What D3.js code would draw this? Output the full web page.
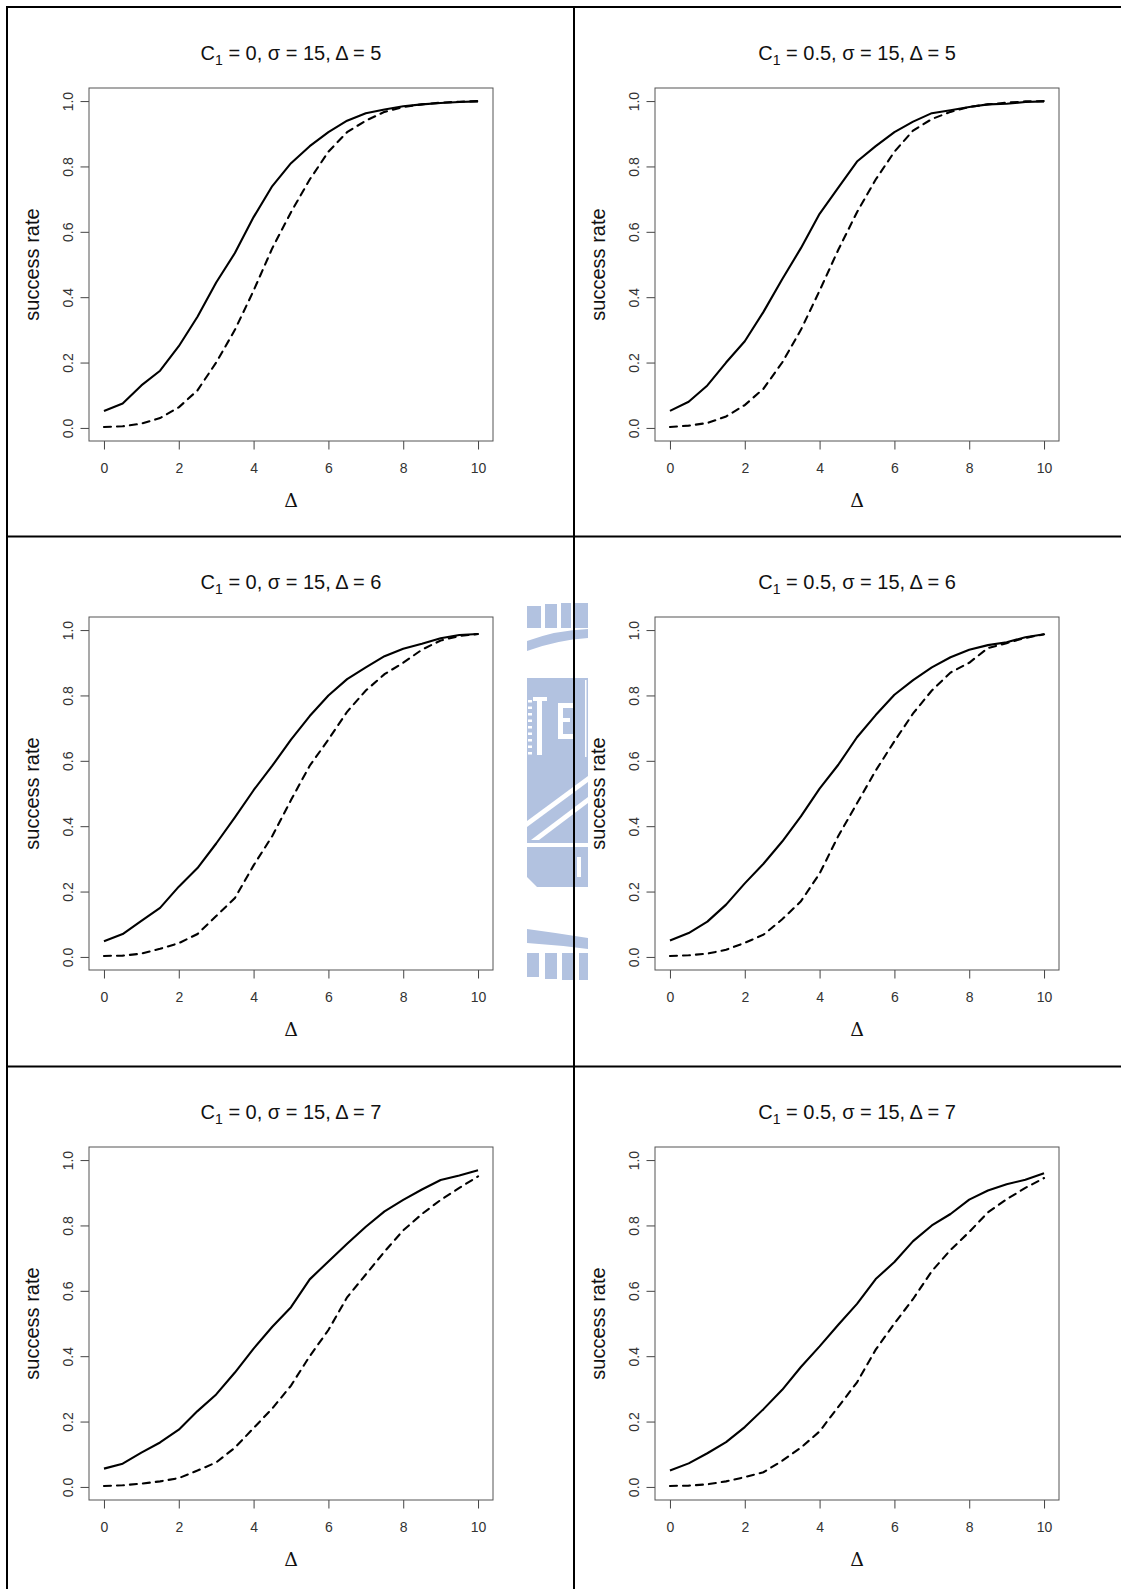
<!DOCTYPE html>
<html>
<head>
  <meta charset="utf-8">
  <title>success rate panels</title>
  <script src="https://d3js.org/d3.v7.min.js"></script>
  <style>
    body { margin: 0; background: #fff; }
    svg { display: block; }
  </style>
</head>
<body>
<svg id="chart" width="1121" height="1589"></svg>
<script>
// x grid of the simulations (Delta)
var xs = [0, 0.5, 1, 1.5, 2, 2.5, 3, 3.5, 4, 4.5, 5, 5.5, 6, 6.5, 7, 7.5, 8, 8.5, 9, 9.5, 10];

// C1 = 0
var solidC0D5  = [0.052, 0.075, 0.13, 0.175, 0.25, 0.34, 0.445, 0.535, 0.645, 0.74, 0.81, 0.862, 0.905, 0.94, 0.963, 0.974, 0.984, 0.99, 0.994, 0.997, 0.999];
var dashedC0D5 = [0.003, 0.005, 0.013, 0.03, 0.063, 0.115, 0.2, 0.3, 0.42, 0.55, 0.66, 0.76, 0.845, 0.905, 0.94, 0.967, 0.982, 0.99, 0.995, 0.998, 1.0];
var solidC0D6  = [0.048, 0.07, 0.11, 0.15, 0.215, 0.272, 0.347, 0.427, 0.51, 0.585, 0.665, 0.737, 0.8, 0.85, 0.886, 0.92, 0.943, 0.958, 0.975, 0.985, 0.988];
var dashedC0D6 = [0.003, 0.004, 0.01, 0.025, 0.042, 0.07, 0.125, 0.18, 0.28, 0.37, 0.48, 0.585, 0.665, 0.75, 0.815, 0.865, 0.9, 0.94, 0.968, 0.982, 0.988];
var solidC0D7  = [0.056, 0.071, 0.105, 0.136, 0.175, 0.232, 0.283, 0.35, 0.423, 0.49, 0.55, 0.635, 0.69, 0.744, 0.796, 0.843, 0.878, 0.91, 0.939, 0.953, 0.969];
var dashedC0D7 = [0.003, 0.005, 0.01, 0.017, 0.027, 0.05, 0.075, 0.12, 0.18, 0.24, 0.31, 0.4, 0.48, 0.58, 0.65, 0.72, 0.785, 0.835, 0.878, 0.915, 0.95];

// C1 = 0.5
var solidC05D5  = [0.052, 0.08, 0.13, 0.2, 0.265, 0.355, 0.455, 0.55, 0.655, 0.735, 0.815, 0.862, 0.905, 0.937, 0.963, 0.972, 0.982, 0.99, 0.992, 0.997, 0.999];
var dashedC05D5 = [0.003, 0.007, 0.015, 0.035, 0.07, 0.12, 0.2, 0.3, 0.42, 0.545, 0.66, 0.76, 0.845, 0.91, 0.945, 0.967, 0.982, 0.99, 0.995, 0.999, 1.0];
var solidC05D6  = [0.05, 0.073, 0.108, 0.16, 0.225, 0.285, 0.353, 0.43, 0.515, 0.588, 0.672, 0.74, 0.802, 0.847, 0.886, 0.917, 0.94, 0.954, 0.963, 0.978, 0.987];
var dashedC05D6 = [0.003, 0.005, 0.01, 0.022, 0.043, 0.068, 0.115, 0.17, 0.255, 0.37, 0.47, 0.57, 0.66, 0.745, 0.815, 0.87, 0.9, 0.945, 0.96, 0.976, 0.987];
var solidC05D7  = [0.05, 0.072, 0.103, 0.137, 0.183, 0.238, 0.297, 0.367, 0.43, 0.496, 0.56, 0.636, 0.688, 0.752, 0.8, 0.835, 0.879, 0.907, 0.926, 0.94, 0.96];
var dashedC05D7 = [0.003, 0.004, 0.008, 0.017, 0.03, 0.045, 0.08, 0.12, 0.17, 0.245, 0.32, 0.42, 0.5, 0.575, 0.66, 0.725, 0.78, 0.84, 0.88, 0.915, 0.945];

var c1Labels = ["0", "0.5"];       // columns
var deltaLabels = ["5", "6", "7"]; // rows
var xTicks = [0, 2, 4, 6, 8, 10];
var yTicks = [0, 0.2, 0.4, 0.6, 0.8, 1.0];
var yTickLabels = ["0.0", "0.2", "0.4", "0.6", "0.8", "1.0"];

var solidSeries = [[solidC0D5, solidC05D5], [solidC0D6, solidC05D6], [solidC0D7, solidC05D7]];
var dashedSeries = [[dashedC0D5, dashedC05D5], [dashedC0D6, dashedC05D6], [dashedC0D7, dashedC05D7]];

// layout
var colLeft = [89, 655];
var rowTop = [88, 617, 1147];
var pw = 404, ph = 353;
var sans = "'Liberation Sans', Arial, sans-serif";

var svg = d3.select("#chart");
svg.append("rect").attr("width", 1121).attr("height", 1589).attr("fill", "#fff");

// faint watermark logo strip between the columns
var wm = svg.append("g").attr("fill", "#b2c2e0");
svg.append("clipPath").attr("id", "wmclip")
  .append("rect").attr("x", 527).attr("y", 595).attr("width", 61).attr("height", 392);
wm.attr("clip-path", "url(#wmclip)");
[[527, 606, 14, 22], [545, 604, 12, 24], [561, 603, 10, 25], [575, 603, 13, 25],
 [527, 953, 12, 24], [545, 953, 12, 26], [562, 953, 11, 27], [579, 953, 9, 27],
 [527, 678, 61, 165]].forEach(function(r) {
  wm.append("rect").attr("x", r[0]).attr("y", r[1]).attr("width", r[2]).attr("height", r[3]);
});
wm.append("path").attr("d", "M527,641 Q557,630 588,629 L588,638 Q557,640 527,651 Z");
wm.append("path").attr("d", "M527,929 Q557,933 588,938 L588,949 Q557,945 527,943 Z");
wm.append("path").attr("d", "M527,847 L588,847 L588,887 L537,887 L527,877 Z");
var wmw = wm.append("g").attr("fill", "#fff");
[[533, 697, 14, 4], [537, 697, 5, 58], [558, 703, 5, 36], [558, 703, 15, 5],
 [558, 718, 12, 4], [558, 734, 15, 5], [585, 680, 1.5, 77], [577, 857, 4, 20]].forEach(function(r) {
  wmw.append("rect").attr("x", r[0]).attr("y", r[1]).attr("width", r[2]).attr("height", r[3]);
});
for (var k = 0; k < 9; k++) {
  wmw.append("rect").attr("x", 528).attr("y", 700 + k * 6.5).attr("width", 4).attr("height", 2.5);
}
wmw.append("path").attr("d", "M527,821 L588,776 L588,782 L527,827 Z");
wmw.append("path").attr("d", "M531,840 L588,797 L588,803 L539,840 Z");

var x = d3.scaleLinear().domain([-0.4, 10.4]).range([0, pw]);
var y = d3.scaleLinear().domain([-0.04, 1.04]).range([ph, 0]);
var line = d3.line().x(function(d) { return x(d[0]); }).y(function(d) { return y(d[1]); });

deltaLabels.forEach(function(dl, r) {
  c1Labels.forEach(function(cl, c) {
    var g = svg.append("g").attr("transform", "translate(" + colLeft[c] + "," + rowTop[r] + ")");

    // title
    var t = g.append("text").attr("x", pw / 2).attr("y", -28)
      .attr("text-anchor", "middle").attr("font-family", sans)
      .attr("font-size", 20).attr("fill", "#111");
    t.append("tspan").text("C");
    t.append("tspan").attr("dy", 5).attr("font-size", 14).text("1");
    t.append("tspan").attr("dy", -5).text(" = " + cl + ", \u03c3 = 15, \u0394 = " + dl);

    // axes
    var xa = g.append("g").attr("transform", "translate(0," + ph + ")")
      .call(d3.axisBottom(x).tickValues(xTicks).tickSize(8.5).tickFormat(d3.format("d")));
    xa.select(".domain").remove();
    xa.selectAll("line").attr("stroke", "#444");
    xa.selectAll("text").attr("y", 32).attr("dy", 0)
      .attr("font-family", sans).attr("font-size", 14).attr("fill", "#333");

    var ya = g.append("g")
      .call(d3.axisLeft(y).tickValues(yTicks).tickSize(8.5)
        .tickFormat(function(d, i) { return yTickLabels[i]; }));
    ya.select(".domain").remove();
    ya.selectAll("line").attr("stroke", "#444");
    ya.selectAll("text").attr("x", 0).attr("dy", 0)
      .attr("text-anchor", "middle").attr("transform", "translate(-16.5,0) rotate(-90)")
      .attr("font-family", sans).attr("font-size", 14).attr("fill", "#333");

    // box
    g.append("rect").attr("x", 0).attr("y", 0).attr("width", pw).attr("height", ph)
      .attr("fill", "none").attr("stroke", "#555").attr("stroke-width", 1);

    // axis labels
    g.append("text").attr("transform", "translate(-50," + ph / 2 + ") rotate(-90)")
      .attr("text-anchor", "middle").attr("font-family", sans)
      .attr("font-size", 20).attr("fill", "#111").text("success rate");
    g.append("text").attr("x", pw / 2).attr("y", ph + 65.5)
      .attr("text-anchor", "middle").attr("font-family", "'DejaVu Serif', 'Liberation Serif', serif")
      .attr("font-size", 19).attr("fill", "#111").text("\u0394");

    // curves
    var solid = xs.map(function(v, i) { return [v, solidSeries[r][c][i]]; });
    var dashed = xs.map(function(v, i) { return [v, dashedSeries[r][c][i]]; });
    g.append("path").attr("d", line(dashed)).attr("fill", "none")
      .attr("stroke", "#000").attr("stroke-width", 2.1)
      .attr("stroke-dasharray", "7,6").attr("stroke-linecap", "round");
    g.append("path").attr("d", line(solid)).attr("fill", "none")
      .attr("stroke", "#000").attr("stroke-width", 2.1).attr("stroke-linejoin", "round");
  });
});

// panel frame lines
var frame = svg.append("g").attr("stroke", "#000").attr("stroke-width", 2);
[7, 536.5, 1066.5].forEach(function(yy) {
  frame.append("line").attr("x1", 6).attr("x2", 1121).attr("y1", yy).attr("y2", yy);
});
[7, 574].forEach(function(xx) {
  frame.append("line").attr("x1", xx).attr("x2", xx).attr("y1", 6).attr("y2", 1589);
});
</script>
</body>
</html>
